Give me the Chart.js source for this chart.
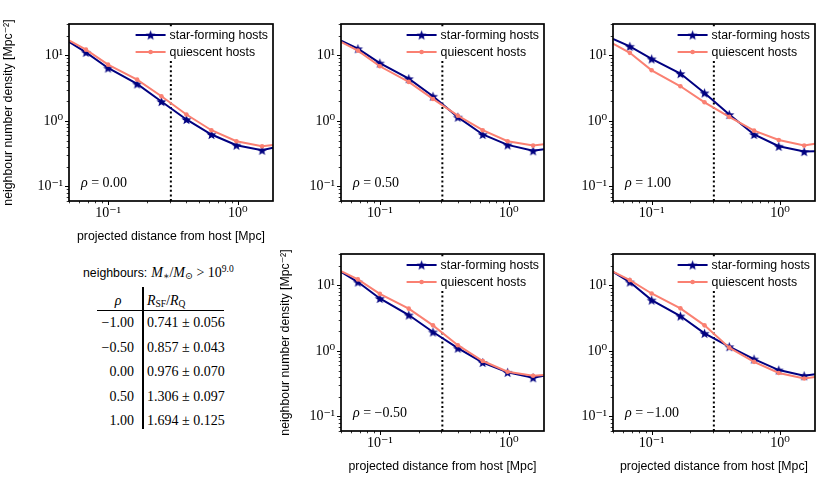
<!DOCTYPE html>
<html>
<head>
<meta charset="utf-8">
<script src="https://cdn.jsdelivr.net/npm/chart.js@4.4.1/dist/chart.umd.min.js"></script>
<style>
html,body{margin:0;padding:0;background:#fff;}
body{width:830px;height:484px;position:relative;overflow:hidden;}
.wrap{position:absolute;}
.wrap canvas{display:block;}
.tx{position:absolute;white-space:nowrap;color:#000;line-height:1;}
.serif{font-family:"Liberation Serif","DejaVu Serif",serif;font-size:14px;}
.sans{font-family:"Liberation Sans","DejaVu Sans",sans-serif;font-size:12.3px;}
.rule{position:absolute;background:#000;}
.tx sub,.tx sup{font-size:68%;line-height:0;}
.tx sub{vertical-align:-0.25em;}
.tx sup{vertical-align:0.5em;}
</style>
</head>
<body>
<script>
// ---------------- data ----------------
const distanceMpc = [0.05, 0.0676, 0.1, 0.1675, 0.258, 0.402, 0.627, 0.977, 1.54, 1.87];

const sfRhoP000 = [16.0, 11.1, 6.4, 3.66, 1.97, 1.05, 0.62, 0.426, 0.357, 0.39];
const qRhoP000  = [16.9, 12.2, 7.2, 4.26, 2.37, 1.25, 0.72, 0.49, 0.41, 0.43];
const sfRhoP050 = [16.7, 12.6, 7.6, 4.4, 2.37, 1.14, 0.62, 0.43, 0.35, 0.37];
const qRhoP050  = [16.0, 11.8, 6.8, 3.93, 2.16, 1.2, 0.72, 0.49, 0.42, 0.44];
const sfRhoP100 = [17.7, 13.7, 8.8, 5.26, 2.67, 1.25, 0.62, 0.41, 0.34, 0.345];
const qRhoP100  = [15.1, 10.9, 5.9, 3.37, 1.92, 1.15, 0.71, 0.51, 0.42, 0.45];
const sfRhoM050 = [16.0, 11.2, 6.3, 3.52, 1.94, 1.1, 0.665, 0.47, 0.39, 0.417];
const qRhoM050  = [16.4, 12.3, 7.4, 4.4, 2.45, 1.22, 0.70, 0.48, 0.417, 0.427];
const sfRhoM100 = [16.0, 11.2, 5.95, 3.4, 1.85, 1.16, 0.75, 0.51, 0.417, 0.44];
const qRhoM100  = [16.2, 12.0, 7.5, 4.45, 2.45, 1.12, 0.68, 0.46, 0.38, 0.40];

const panelRhoLabels = ['0.00', '0.50', '1.00', '\u22120.50', '\u22121.00'];
const seriesLabels = ['star-forming hosts', 'quiescent hosts'];
const apertureMpc = 0.305;

const xAxisTitle = 'projected distance from host [Mpc]';
const yAxisTitle = 'neighbour number density [Mpc\u207B\u00B2]';
const xMajorTickValues = [0.1, 1];
const xMajorTickLabels = ['10\u207B\u00B9', '10\u2070'];
const yMajorTickValues = [0.1, 1, 10];
const yMajorTickLabels = ['10\u207B\u00B9', '10\u2070', '10\u00B9'];
const xRange = [0.05, 1.87];
const yRange = [0.06, 30];

const tableRho = ['\u22121.00', '\u22120.50', '0.00', '0.50', '1.00'];
const tableRatio = ['0.741', '0.857', '0.976', '1.306', '1.694'];
const tableRatioErr = ['0.056', '0.043', '0.070', '0.097', '0.125'];

// ---------------- layout / style ----------------
const NAVY = '#000080', SALMON = '#FA8072';
const SERIF = '"Liberation Serif","DejaVu Serif",serif';
const SANS = '"Liberation Sans","DejaVu Sans",sans-serif';

const panelLayout = [
  {L: 69,  T: 24,  W: 204, H: 177, yTitle: 60, xTitle: true},
  {L: 341, T: 24,  W: 203, H: 177, yTitle: 0,  xTitle: false},
  {L: 613, T: 24,  W: 202, H: 177, yTitle: 0,  xTitle: false},
  {L: 341, T: 254, W: 203, H: 177, yTitle: 55, xTitle: true},
  {L: 613, T: 254, W: 202, H: 177, yTitle: 0,  xTitle: true}
];
const panelSeries = [
  [sfRhoP000, qRhoP000], [sfRhoP050, qRhoP050], [sfRhoP100, qRhoP100],
  [sfRhoM050, qRhoM050], [sfRhoM100, qRhoM100]
];

function minorDecadeTicks(lo, hi) {
  const out = [];
  for (let e = -2; e <= 2; e++) for (let m = 1; m <= 9; m++) {
    const v = +(m * Math.pow(10, e)).toPrecision(6);
    if (v >= lo - 1e-9 && v <= hi + 1e-9) out.push(v);
  }
  return out;
}
const xTickValues = minorDecadeTicks(xRange[0], xRange[1]);
const yTickValues = minorDecadeTicks(yRange[0], yRange[1]);

function labelFor(v, vals, labels) {
  for (let k = 0; k < vals.length; k++) if (Math.abs(Math.log10(v) - Math.log10(vals[k])) < 1e-6) return labels[k];
  return '';
}
function isMajor(v) { return Math.abs(Math.log10(v) - Math.round(Math.log10(v))) < 1e-6; }

function makeStar(color, R) {
  const s = Math.ceil(R * 2) + 2;
  const c = document.createElement('canvas'); c.width = s; c.height = s;
  const g = c.getContext('2d');
  g.fillStyle = color; g.beginPath();
  for (let i = 0; i < 10; i++) {
    const r = i % 2 ? R * 0.42 : R;
    const a = -Math.PI / 2 + i * Math.PI / 5;
    g.lineTo(s / 2 + r * Math.cos(a), s / 2 + r * Math.sin(a) + R * 0.1);
  }
  g.closePath(); g.fill();
  return c;
}
const starImg = makeStar(NAVY, 5.3);

const decor = {
  id: 'decor',
  afterDatasetsDraw(chart, args, opts) {
    const ctx = chart.ctx, a = chart.chartArea;
    const xs = chart.scales.x, ys = chart.scales.y;
    ctx.save();
    // legend (white box, top-right)
    ctx.font = '12.3px ' + SANS;
    const tw = Math.max(...seriesLabels.map(s => ctx.measureText(s).width));
    const textRight = a.right - 5;
    const textLeft = textRight - tw;
    const lineX1 = textLeft - 4, lineX0 = lineX1 - 30;
    const row = [a.top + 11, a.top + 28];
    ctx.fillStyle = '#fff';
    ctx.fillRect(lineX0 - 5, row[0] - 8, a.right - (lineX0 - 5) - 1, row[1] - row[0] + 15);
    const dsets = chart.data.datasets;
    for (let k = 0; k < 2; k++) {
      const d = dsets[k];
      ctx.strokeStyle = d.borderColor; ctx.lineWidth = d.borderWidth;
      ctx.beginPath(); ctx.moveTo(lineX0, row[k]); ctx.lineTo(lineX1, row[k]); ctx.stroke();
      const cx = (lineX0 + lineX1) / 2;
      if (k === 0) {
        ctx.drawImage(starImg, cx - starImg.width / 2, row[k] - starImg.height / 2);
      } else {
        ctx.fillStyle = d.borderColor; ctx.beginPath(); ctx.arc(cx, row[k], 2.3, 0, Math.PI * 2); ctx.fill();
      }
      ctx.fillStyle = '#000'; ctx.textBaseline = 'middle'; ctx.textAlign = 'left';
      ctx.fillText(d.label, textLeft, row[k] + 0.5);
    }
    // rho annotation
    ctx.textBaseline = 'alphabetic'; ctx.fillStyle = '#000';
    let x = a.left + 12, y = a.bottom - 14;
    ctx.font = 'italic 14px ' + SERIF;
    ctx.fillText('\u03C1', x, y);
    x += ctx.measureText('\u03C1').width;
    ctx.font = '14px ' + SERIF;
    ctx.fillText(' = ' + opts.rho, x, y);
    // y axis title
    if (opts.yTitle) {
      ctx.save();
      ctx.translate(a.left - opts.yTitle, (a.top + a.bottom) / 2);
      ctx.rotate(-Math.PI / 2);
      ctx.font = '12.3px ' + SANS; ctx.textAlign = 'center'; ctx.textBaseline = 'middle';
      ctx.fillText(yAxisTitle, 0, 0);
      ctx.restore();
    }
    // frame
    ctx.strokeStyle = '#000'; ctx.lineWidth = 1.7;
    ctx.strokeRect(a.left, a.top, a.right - a.left, a.bottom - a.top);
    // ticks
    xs.ticks.forEach(t => {
      const mj = isMajor(t.value);
      const px = Math.round(xs.getPixelForValue(t.value)) + 0.5;
      ctx.lineWidth = mj ? 1 : 0.8; const len = mj ? 4 : 2.3;
      ctx.beginPath(); ctx.moveTo(px, a.bottom); ctx.lineTo(px, a.bottom + len); ctx.stroke();
    });
    ys.ticks.forEach(t => {
      const mj = isMajor(t.value);
      const py = Math.round(ys.getPixelForValue(t.value)) + 0.5;
      ctx.lineWidth = mj ? 1 : 0.8; const len = mj ? 4 : 2.3;
      ctx.beginPath(); ctx.moveTo(a.left, py); ctx.lineTo(a.left - len, py); ctx.stroke();
    });
    ctx.restore();
  }
};

function edgeless(r) {
  return c => (c.dataIndex === 0 || c.dataIndex === distanceMpc.length - 1) ? 0 : r;
}

function chartConfig(i, sf, q, yW, xH, padT, padR) {
  const lay = panelLayout[i];
  return {
    type: 'line',
    data: {
      datasets: [
        {label: seriesLabels[0], data: distanceMpc.map((x, k) => ({x, y: sf[k]})),
         borderColor: NAVY, backgroundColor: NAVY, borderWidth: 2, tension: 0,
         pointStyle: starImg, pointRadius: edgeless(4), pointHoverRadius: 0, order: 1},
        {label: seriesLabels[1], data: distanceMpc.map((x, k) => ({x, y: q[k]})),
         borderColor: SALMON, backgroundColor: SALMON, borderWidth: 2, tension: 0,
         pointStyle: 'circle', pointRadius: edgeless(2.3), pointBorderWidth: 0, pointHoverRadius: 0, order: 0},
        {label: 'aperture', data: [{x: apertureMpc, y: yRange[0]}, {x: apertureMpc, y: yRange[1]}],
         borderColor: '#000', borderWidth: 2, borderDash: [2, 2.6], pointRadius: 0, order: 2}
      ]
    },
    options: {
      responsive: false, animation: false, devicePixelRatio: 1,
      layout: {padding: {top: padT, right: padR, left: 0, bottom: 0}},
      plugins: {legend: {display: false}, tooltip: {enabled: false},
                decor: {rho: panelRhoLabels[i], yTitle: lay.yTitle}},
      scales: {
        x: {type: 'logarithmic', min: xRange[0], max: xRange[1],
            grid: {display: false, drawTicks: false}, border: {display: false},
            afterBuildTicks: s => { s.ticks = xTickValues.map(v => ({value: v, major: isMajor(v)})); },
            afterFit: s => { s.height = xH; },
            ticks: {autoSkip: false, maxRotation: 0, minRotation: 0, padding: 4, color: '#000',
                    font: {family: SERIF, size: 14},
                    callback: v => labelFor(v, xMajorTickValues, xMajorTickLabels)},
            title: {display: lay.xTitle, text: xAxisTitle, color: '#000',
                    font: {family: SANS, size: 12.3}, padding: {top: 0, bottom: 2}}},
        y: {type: 'logarithmic', min: yRange[0], max: yRange[1],
            grid: {display: false, drawTicks: false}, border: {display: false},
            afterBuildTicks: s => { s.ticks = yTickValues.map(v => ({value: v, major: isMajor(v)})); },
            afterFit: s => { s.width = yW; },
            ticks: {autoSkip: false, padding: 6, color: '#000',
                    font: {family: SERIF, size: 14},
                    callback: v => labelFor(v, yMajorTickValues, yMajorTickLabels)}}
      }
    },
    plugins: [decor]
  };
}

function makePanel(i) {
  const lay = panelLayout[i];
  const [sf, q] = panelSeries[i];
  const yW = lay.yTitle ? 69 : 42;
  const xH = lay.xTitle ? 45 : 26;
  const padT = 16, padR = 8;
  const wrap = document.createElement('div'); wrap.className = 'wrap';
  document.body.appendChild(wrap);
  let cw = yW + lay.W + padR, ch = padT + lay.H + xH;
  const create = () => {
    wrap.innerHTML = '';
    const cv = document.createElement('canvas');
    cv.width = cw; cv.height = ch; cv.style.width = cw + 'px'; cv.style.height = ch + 'px';
    wrap.appendChild(cv);
    return new Chart(cv, chartConfig(i, sf, q, yW, xH, padT, padR));
  };
  let chart = create();
  let a = chart.chartArea;
  const dw = lay.W - (a.right - a.left), dh = lay.H - (a.bottom - a.top);
  if (Math.abs(dw) > 0.5 || Math.abs(dh) > 0.5) {
    chart.destroy(); cw += Math.round(dw); ch += Math.round(dh);
    chart = create(); a = chart.chartArea;
  }
  wrap.style.left = (lay.L - a.left) + 'px';
  wrap.style.top = (lay.T - a.top) + 'px';
}

for (let i = 0; i < panelLayout.length; i++) makePanel(i);

// ---------------- table ----------------
function place(html, cls, x, y, align) {
  const d = document.createElement('div');
  d.className = 'tx ' + cls; d.innerHTML = html;
  d.style.left = x + 'px'; d.style.top = y + 'px';
  const tx = align === 'right' ? '-100%' : align === 'center' ? '-50%' : '0';
  d.style.transform = 'translate(' + tx + ',-50%)';
  document.body.appendChild(d);
  return d;
}
function rule(x, y, w, h) {
  const d = document.createElement('div'); d.className = 'rule';
  d.style.left = x + 'px'; d.style.top = y + 'px'; d.style.width = w + 'px'; d.style.height = h + 'px';
  document.body.appendChild(d);
}
place('<span class="sans">neighbours:</span> <span class="serif"><i>M</i><sub>\u2217</sub>/<i>M</i><sub>\u2299</sub> &gt; 10<sup>9.0</sup></span>', '', 83, 272, 'left');
place('<i>\u03C1</i>', 'serif', 118, 301, 'center');
place('<i>R</i><sub>SF</sub>/<i>R</i><sub>Q</sub>', 'serif', 147, 301, 'left');
rule(97, 309.5, 127, 1.7);
rule(142, 287, 1.8, 142);
const rowY = [323, 347.5, 372, 396.5, 421];
for (let k = 0; k < tableRho.length; k++) {
  place(tableRho[k], 'serif', 134, rowY[k], 'right');
  place(tableRatio[k] + ' \u00B1 ' + tableRatioErr[k], 'serif', 147, rowY[k], 'left');
}
</script>
</body>
</html>
